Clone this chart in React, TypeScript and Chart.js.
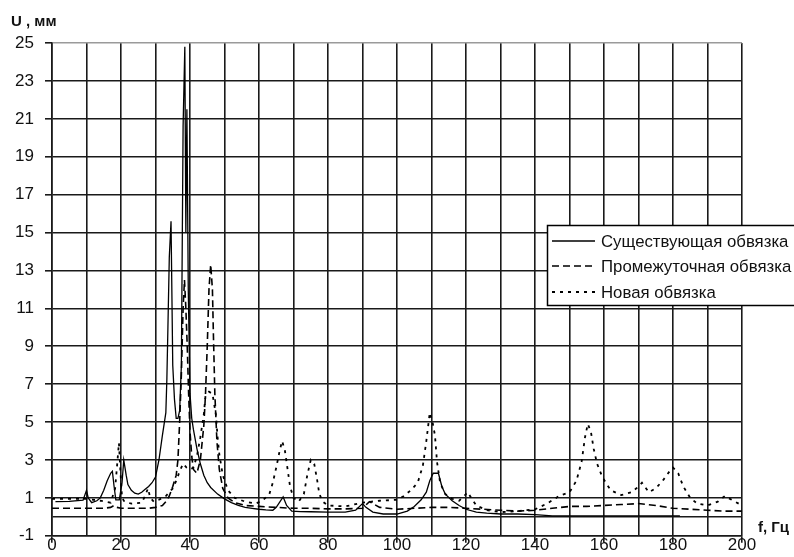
import React, { useEffect, useRef } from 'react';
import { Chart, registerables } from 'chart.js';

Chart.register(...registerables);

const seriesNames = ['Существующая обвязка', 'Промежуточная обвязка', 'Новая обвязка'];
const yAxisTitle = 'U , мм';
const xAxisTitle = 'f, Гц';
const yTickValues = [-1, 0, 1, 3, 5, 7, 9, 11, 13, 15, 17, 19, 21, 23, 25];
const xTickValues = [0, 10, 20, 30, 40, 50, 60, 70, 80, 90, 100, 110, 120, 130, 140, 150, 160, 170, 180, 190, 200];

// Существующая обвязка
const existingF = [1, 5, 9, 10, 10.5, 11.5, 13, 14, 15, 16, 17, 17.5, 18, 18.5, 19.5, 20.3, 20.8, 21.5, 22, 23, 24, 25, 26, 27, 28, 29, 30, 31, 32, 33, 33.3, 33.6, 34, 34.5, 35, 35.5, 36, 36.5, 37, 37.5, 38, 38.5, 38.8, 39.1, 39.5, 40, 40.5, 41, 42, 43, 44, 45, 46, 48, 50, 52, 54, 56, 58, 60, 62, 64, 65, 67, 68, 69.5, 72, 75, 80, 85, 88, 90, 91, 93, 96, 100, 103, 105, 107, 108.5, 109.5, 110.5, 112, 113, 114, 116, 118, 120, 123, 126, 130, 135, 140, 145, 150, 160, 170, 182];
const existingU = [0.8, 0.82, 0.88, 1.4, 1.0, 0.75, 0.85, 1.0, 1.4, 1.9, 2.3, 2.4, 1.6, 0.9, 0.9, 1.8, 3.0, 2.2, 1.7, 1.4, 1.25, 1.2, 1.3, 1.45, 1.6, 1.8, 2.1, 3.0, 4.3, 5.5, 7.3, 10, 13.7, 15.6, 8, 6.2, 5.2, 5.2, 5.6, 8, 20.6, 24.8, 15, 21.5, 12, 6.5, 5.2, 4.6, 3.6, 2.8, 2.2, 1.8, 1.55, 1.2, 0.95, 0.75, 0.6, 0.5, 0.45, 0.4, 0.37, 0.35, 0.5, 1.05, 0.6, 0.3, 0.28, 0.27, 0.25, 0.25, 0.35, 0.7, 0.5, 0.25, 0.15, 0.15, 0.3, 0.55, 0.9, 1.3, 1.9, 2.3, 2.3, 1.6, 1.2, 0.85, 0.6, 0.4, 0.25, 0.2, 0.15, 0.15, 0.12, 0.05, 0.05, 0.05, 0.05, 0.05];

// Промежуточная обвязка
const intermediateF = [0, 5, 10, 15, 17, 18, 18.8, 20, 22, 25, 28, 30, 32, 33, 34, 35, 36, 36.5, 37, 37.5, 38, 38.4, 38.8, 39.2, 39.6, 40, 40.5, 41, 42, 43, 44, 44.5, 45, 45.5, 46, 46.5, 46.8, 47.2, 47.8, 48.5, 49.5, 51, 53, 56, 60, 65, 70, 75, 80, 85, 90, 92, 95, 100, 105, 110, 115, 120, 125, 130, 135, 140, 145, 150, 155, 160, 165, 170, 175, 180, 185, 190, 195, 200];
const intermediateU = [0.45, 0.45, 0.45, 0.45, 0.5, 0.6, 0.5, 0.45, 0.45, 0.45, 0.45, 0.5, 0.6, 0.8, 1.1, 1.6, 2.2, 3, 5, 7.5, 11, 12.5, 11, 9, 6.5, 4.5, 3.2, 2.5, 2.3, 3, 4.8, 6.5, 9, 12, 13.3, 12, 9.5, 6.5, 4, 2.5, 1.5, 1, 0.75, 0.6, 0.55, 0.5, 0.45, 0.45, 0.42, 0.42, 0.45, 0.8, 0.5, 0.4, 0.45, 0.5, 0.5, 0.45, 0.4, 0.35, 0.3, 0.35, 0.45, 0.55, 0.55, 0.6, 0.65, 0.7, 0.6, 0.45, 0.4, 0.35, 0.3, 0.3];

// Новая обвязка
const newF = [0, 5, 10, 14, 17, 18.3, 19, 19.4, 19.8, 20.3, 21, 23, 26, 27, 27.8, 28.5, 29.5, 31, 33, 35, 36, 37, 38, 39, 40, 41, 42, 43, 44, 44.5, 45.5, 46.5, 47.5, 48, 48.5, 49.5, 51, 53, 56, 59, 61, 63, 64, 65, 66, 66.7, 67.5, 68.3, 69, 70, 71.5, 73, 74, 75, 76, 76.8, 77.5, 78.5, 80, 85, 90, 95, 100, 102, 104, 106, 107.5, 108.5, 109.5, 110.3, 111, 111.6, 112.5, 114, 116, 118, 119.5, 120.5, 121.5, 123, 126, 130, 135, 140, 143.5, 147, 150, 152, 153.5, 154.5, 155.3, 156.2, 157, 158, 159.3, 160.5, 162, 165, 168, 170, 171, 173, 175, 177, 179, 180, 181.5, 183, 185, 187, 190, 193, 195, 197, 200];
const newU = [0.95, 0.95, 0.95, 0.85, 0.75, 1.5, 3.0, 3.9, 2.5, 1.0, 0.8, 0.7, 0.75, 1.1, 1.5, 1.0, 0.8, 0.9, 1.1, 1.5, 1.9, 2.4, 2.8, 2.6, 2.5, 2.6, 3.2, 4.2, 5.4, 6.4, 6.6, 6.5, 5.4, 4.2, 3.3, 2.2, 1.4, 1.0, 0.8, 0.7, 0.85, 1.2, 1.8, 2.6, 3.5, 4.0, 3.5, 2.5, 1.6, 1.0, 0.8, 1.2, 2.2, 3.0, 2.8, 2.0, 1.2, 0.8, 0.6, 0.55, 0.75, 0.85, 0.9, 1.1, 1.4, 1.8, 2.7, 4.0, 5.5, 5.0, 4.3, 2.9, 1.8, 1.2, 0.95, 0.85, 1.1, 1.3, 1.0, 0.6, 0.35, 0.25, 0.3, 0.4, 0.7, 1.1, 1.3, 1.9, 2.9, 4.2, 4.9, 4.5, 3.6, 2.8, 2.2, 1.8, 1.4, 1.15, 1.3, 1.6, 1.8, 1.3, 1.5, 1.9, 2.4, 2.6, 2.3, 1.6, 1.0, 0.7, 0.6, 0.8, 1.1, 0.9, 0.6];

const FONT = '"Liberation Sans", Arial, sans-serif';

const toPoints = (fs: number[], us: number[]) => fs.map((f, i) => ({ x: f, y: us[i] }));

const overlayPlugin = {
  id: 'overlay',
  afterDraw(chart: any) {
    const ctx = chart.ctx as CanvasRenderingContext2D;
    ctx.save();
    ctx.fillStyle = '#111';
    ctx.font = `bold 15px ${FONT}`;
    ctx.textBaseline = 'middle';
    ctx.textAlign = 'left';
    ctx.fillText(yAxisTitle, 11, 22);
    ctx.fillText(xAxisTitle, 758, 528);

    // legend box
    const bx = 547.5, by = 225.5, bw = 260, bh = 80;
    ctx.fillStyle = '#fff';
    ctx.fillRect(bx, by, bw, bh);
    ctx.strokeStyle = '#000';
    ctx.lineWidth = 1.5;
    ctx.setLineDash([]);
    ctx.strokeRect(bx, by, bw, bh);
    const rowsY = [241, 266, 292];
    chart.data.datasets.forEach((ds: any, i: number) => {
      const y = rowsY[i];
      ctx.beginPath();
      ctx.strokeStyle = '#000';
      ctx.lineWidth = ds.borderWidth;
      ctx.setLineDash(ds.borderDash || []);
      ctx.moveTo(552, y);
      ctx.lineTo(595, y);
      ctx.stroke();
      ctx.setLineDash([]);
      ctx.fillStyle = '#111';
      ctx.font = `16.8px ${FONT}`;
      ctx.textBaseline = 'middle';
      ctx.fillText(ds.label, 601, y + 1);
    });
    ctx.restore();
  },
};

export default function App() {
  const ref = useRef<HTMLCanvasElement | null>(null);
  useEffect(() => {
    if (!ref.current) return;
    const tickFont = { family: FONT, size: 17 };
    const chart = new Chart(ref.current, {
      type: 'line',
      data: {
        datasets: [
          { label: seriesNames[0], data: toPoints(existingF, existingU), borderColor: '#000', borderWidth: 1.3, borderDash: [], pointRadius: 0, fill: false },
          { label: seriesNames[1], data: toPoints(intermediateF, intermediateU), borderColor: '#000', borderWidth: 1.6, borderDash: [7, 4], pointRadius: 0, fill: false },
          { label: seriesNames[2], data: toPoints(newF, newU), borderColor: '#000', borderWidth: 1.8, borderDash: [3, 5], pointRadius: 0, fill: false },
        ],
      },
      options: {
        animation: false,
        responsive: false,
        devicePixelRatio: 1,
        parsing: false,
        layout: { padding: { top: 43, right: 52, left: 0, bottom: 0 } },
        plugins: { legend: { display: false }, tooltip: { enabled: false } },
        elements: { line: { tension: 0 }, point: { radius: 0 } },
        scales: {
          x: {
            type: 'linear',
            min: 0,
            max: 200,
            afterBuildTicks: (s: any) => { s.ticks = xTickValues.map((v) => ({ value: v })); },
            afterFit: (s: any) => { s.height = 15; },
            ticks: {
              autoSkip: false,
              maxRotation: 0,
              font: tickFont,
              color: '#111',
              padding: -8,
              callback: (v: any) => (Number(v) % 20 === 0 ? String(v) : ''),
            },
            grid: {
              color: '#1a1a1a',
              lineWidth: 1.6,
              tickLength: 7,
              tickColor: (c: any) => (c.tick && c.tick.value % 20 === 0 ? '#1a1a1a' : 'rgba(0,0,0,0)'),
            },
            border: { display: true, color: '#1a1a1a', width: 1.6 },
          },
          y: {
            type: 'linear',
            min: -1,
            max: 25,
            afterBuildTicks: (s: any) => { s.ticks = yTickValues.map((v) => ({ value: v })); },
            afterFit: (s: any) => { s.width = 52; },
            ticks: {
              font: tickFont,
              color: '#111',
              padding: 11,
              callback: (v: any) => (Number(v) === 0 ? '' : String(v)),
            },
            grid: {
              color: (c: any) => (c.tick && c.tick.value === 25 ? '#9a9a9a' : '#1a1a1a'),
              lineWidth: 1.6,
              tickLength: 7,
              tickColor: (c: any) => (c.tick && c.tick.value === 0 ? 'rgba(0,0,0,0)' : '#1a1a1a'),
            },
            border: { display: true, color: '#1a1a1a', width: 1.6 },
          },
        },
      },
      plugins: [overlayPlugin],
    } as any);
    return () => chart.destroy();
  }, []);
  return (
    <div style={{ position: 'fixed', left: 0, top: 0, width: 794, height: 557, background: '#fff' }}>
      <canvas ref={ref} width={794} height={557} style={{ display: 'block' }} />
    </div>
  );
}
